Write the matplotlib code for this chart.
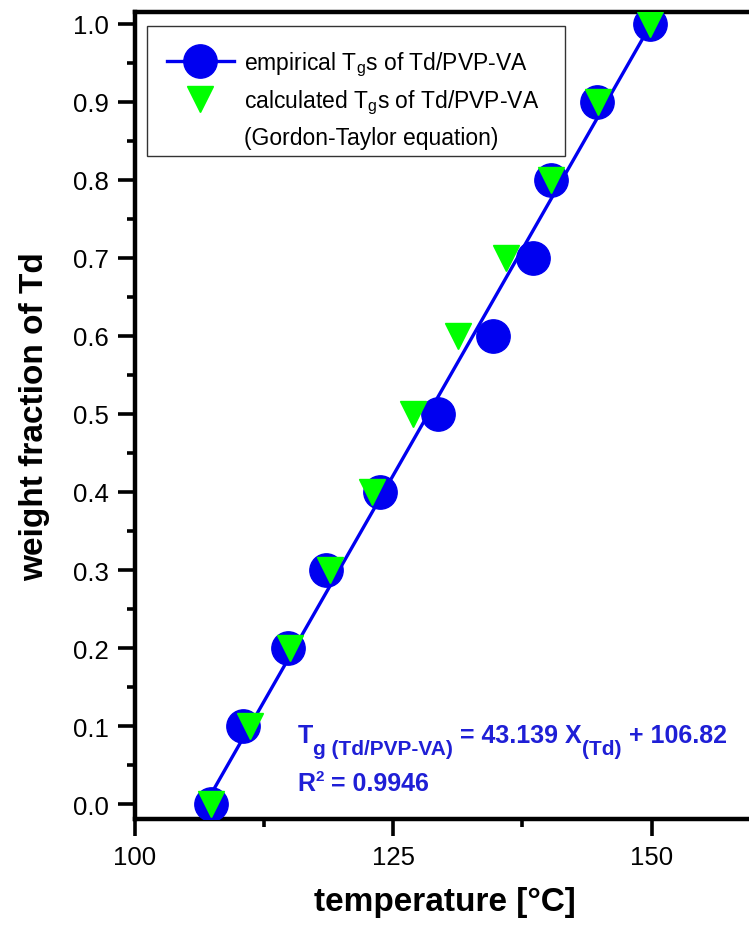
#!/usr/bin/env python3
import matplotlib
matplotlib.use('agg')
import matplotlib.pyplot as plt
from matplotlib.lines import Line2D
from matplotlib.patches import Rectangle
from matplotlib.ticker import MultipleLocator, FormatStrFormatter

plt.rcParams['font.family'] = ['Liberation Sans', 'DejaVu Sans']
plt.rcParams['mathtext.fontset'] = 'custom'
plt.rcParams['mathtext.rm'] = 'Liberation Sans'
plt.rcParams['mathtext.bf'] = 'Liberation Sans:bold'
plt.rcParams['mathtext.it'] = 'Liberation Sans:italic'

# weight fraction of Td
fraction = [0.0, 0.1, 0.2, 0.3, 0.4, 0.5, 0.6, 0.7, 0.8, 0.9, 1.0]
# empirical Tg [degC]
tg_empirical = [107.4, 110.5, 114.8, 118.5, 123.7, 129.3, 134.7, 138.5, 140.3, 144.7, 149.8]
# Gordon-Taylor Tg [degC]
tg_calculated = [107.4, 111.1, 115.0, 118.9, 122.9, 126.9, 131.3, 135.9, 140.3, 144.8, 149.8]
# linear fit end points
fit_t = [106.82, 149.96]
fit_x = [0.0, 1.0]

BLUE = '#0000f0'
GREEN = '#00ff00'
TXT_BLUE = '#1f1fd6'

fig = plt.figure(figsize=(7.49, 9.28), dpi=100)
ax = fig.add_axes([0.180, 0.1164, 0.828, 0.8696])

ax.plot(fit_t, fit_x, '-', color=BLUE, linewidth=2.4, zorder=2)
ax.plot(tg_empirical, fraction, 'o', color=BLUE, markersize=24, zorder=3)
ax.plot(tg_calculated, fraction, 'v', color=GREEN, markersize=19, zorder=4)

ax.set_xlim(100, 160)
ax.set_ylim(-0.019, 1.015)
ax.xaxis.set_major_locator(MultipleLocator(25))
ax.xaxis.set_minor_locator(MultipleLocator(12.5))
ax.yaxis.set_major_locator(MultipleLocator(0.1))
ax.yaxis.set_minor_locator(MultipleLocator(0.05))
ax.yaxis.set_major_formatter(FormatStrFormatter('%.1f'))

for s in ['left', 'bottom', 'top']:
    ax.spines[s].set_linewidth(3.2)
ax.spines['right'].set_visible(False)
ax.tick_params(which='major', direction='out', length=12, width=2.6, labelsize=18.5, pad=7)
ax.tick_params(which='minor', direction='out', length=6, width=2.6)
ax.tick_params(top=False, right=False)

ax.set_xlabel('temperature [\u00b0C]', fontsize=24, fontweight='bold', labelpad=12)
ax.set_ylabel('weight fraction of Td', fontsize=24, fontweight='bold', labelpad=16)

handles = [
    Line2D([], [], color=BLUE, linewidth=2.4, marker='o', markersize=24),
    Line2D([], [], color=GREEN, linestyle='none', marker='v', markersize=19),
    Line2D([], [], linestyle='none'),
]
labels = [
    'empirical T$_\\mathrm{g}$s of Td/PVP-VA',
    'calculated T$_\\mathrm{g}$s of Td/PVP-VA',
    '(Gordon-Taylor equation)',
]
leg = ax.legend(handles, labels, loc='upper left', bbox_to_anchor=(0.019, 0.979),
                borderaxespad=0, frameon=False, fontsize=16.5,
                handlelength=2.9, handletextpad=0.45, labelspacing=0.42, borderpad=0.9,
                markerscale=1.0)
leg.set_zorder(6)
# legend frame drawn separately so its bottom margin can be tighter
ax.add_patch(Rectangle((0.019, 0.822), 0.6745, 0.161, transform=ax.transAxes,
                       facecolor='white', edgecolor='#333333', linewidth=1.0, zorder=5))


def piece(prev, s, y, size, dx=0):
    # place a text piece right after the previous one, baseline at axes fraction y
    return ax.annotate(s, xy=(1, y), xycoords=(prev, 'axes fraction'),
                       xytext=(dx, 0), textcoords='offset points',
                       fontsize=size, fontweight='bold', color=TXT_BLUE,
                       ha='left', va='baseline')


y1, y2 = 0.096, 0.036
t = ax.text(0.262, y1, 'T', transform=ax.transAxes, fontsize=18,
            fontweight='bold', color=TXT_BLUE, va='baseline')
t = piece(t, 'g (Td/PVP-VA)', y1 - 0.016, 15, dx=0.5)
t = piece(t, ' = 43.139 X', y1, 18)
t = piece(t, '(Td)', y1 - 0.016, 15, dx=0.5)
t = piece(t, ' + 106.82', y1, 18)

r = ax.text(0.262, y2, 'R', transform=ax.transAxes, fontsize=18,
            fontweight='bold', color=TXT_BLUE, va='baseline')
r = piece(r, '2', y2 + 0.012, 11, dx=0.5)
r = piece(r, ' = 0.9946', y2, 18)

fig.savefig('out.png', dpi=100)
